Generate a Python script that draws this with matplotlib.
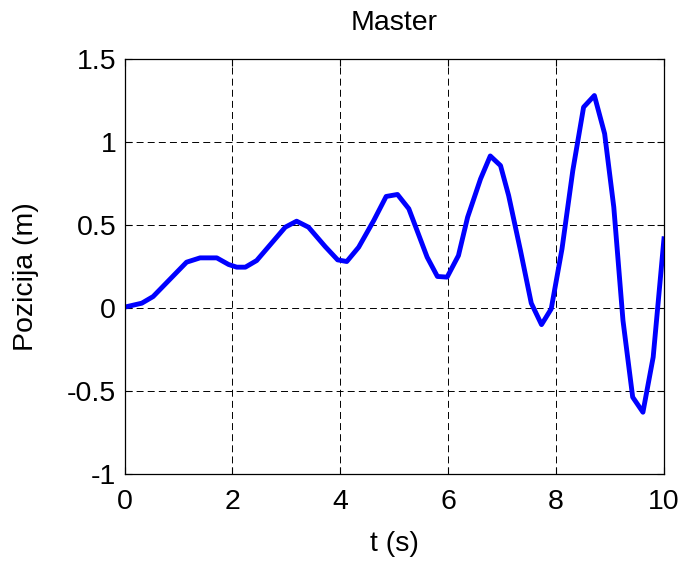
import matplotlib
matplotlib.use('Agg')
import matplotlib.pyplot as plt

plt.rcParams['font.family'] = ['Liberation Sans', 'DejaVu Sans']
plt.rcParams['axes.unicode_minus'] = False
plt.rcParams['lines.scale_dashes'] = False

# samples (time in s, position in m)
t = [0.0, 0.32, 0.53, 1.15, 1.40, 1.71, 1.93, 2.08, 2.24, 2.45,
     2.98, 3.19, 3.41, 3.72, 3.95, 4.12, 4.34, 4.62, 4.85, 5.06,
     5.27, 5.61, 5.80, 5.98, 6.19, 6.36, 6.60, 6.78, 6.97, 7.12,
     7.34, 7.54, 7.73, 7.91, 8.11, 8.31, 8.51, 8.71, 8.90, 9.07,
     9.24, 9.42, 9.61, 9.80, 10.0]
pos = [0.005, 0.029, 0.069, 0.276, 0.302, 0.302, 0.262, 0.246, 0.246, 0.286,
       0.487, 0.523, 0.487, 0.370, 0.290, 0.280, 0.366, 0.527, 0.672, 0.684,
       0.598, 0.306, 0.190, 0.186, 0.316, 0.547, 0.778, 0.916, 0.858, 0.678,
       0.346, 0.029, -0.100, -0.005, 0.357, 0.828, 1.210, 1.280, 1.050, 0.607,
       -0.075, -0.537, -0.628, -0.296, 0.417]

x_ticks = [0, 2, 4, 6, 8, 10]
y_ticks = [-1, -0.5, 0, 0.5, 1, 1.5]

fs = 20.5

fig = plt.figure(figsize=(6.85, 5.61), dpi=100)
ax = fig.add_axes([0.1818, 0.1551, 0.9693 - 0.1818, 0.8948 - 0.1551])

ax.plot(t, pos, color=(0, 0, 1), linewidth=3.5)

ax.set_xlim(0, 10)
ax.set_ylim(-1, 1.5)
ax.set_xticks(x_ticks)
ax.set_yticks(y_ticks)
ax.set_xticklabels([f'{v:g}' for v in x_ticks])
ax.set_yticklabels([f'{v:g}' for v in y_ticks])

ax.grid(True, color='black', linestyle=(0, (5, 3)), linewidth=0.7)
ax.tick_params(direction='in', length=5, width=0.8, labelsize=fs,
               top=True, right=True)
ax.tick_params(axis='x', pad=10.5)
ax.tick_params(axis='y', pad=6)
for sp in ax.spines.values():
    sp.set_linewidth(0.9)

ax.set_title('Master', fontsize=fs, pad=21)
ax.set_xlabel('t (s)', fontsize=fs, labelpad=12)
ax.set_ylabel('Pozicija (m)', fontsize=fs, labelpad=20)
ax.yaxis.label.set_y(0.476)

fig.savefig('out.png', dpi=100)
